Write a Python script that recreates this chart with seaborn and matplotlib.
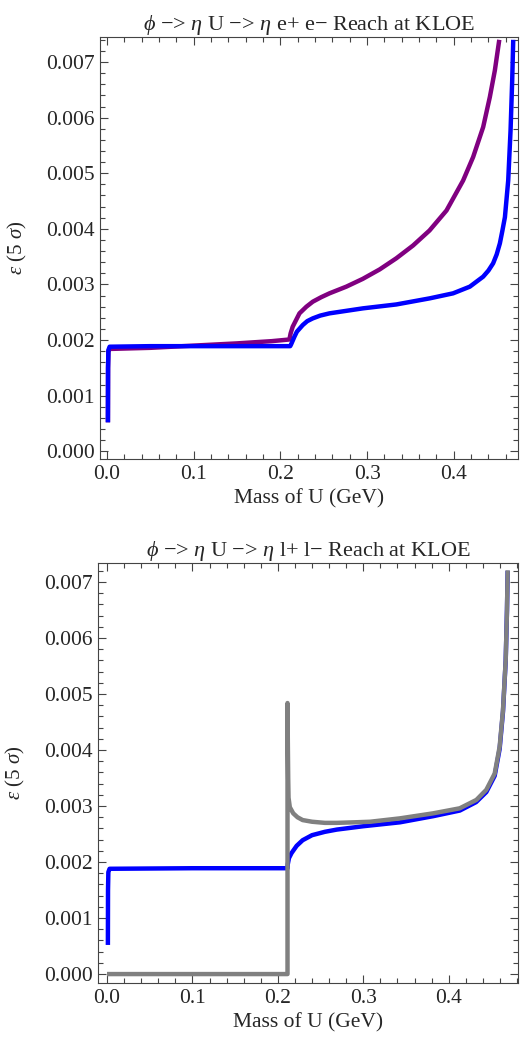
import seaborn as sns
import matplotlib.pyplot as plt
from matplotlib.ticker import MultipleLocator, FormatStrFormatter

# Top panel: phi -> eta U -> eta e+ e-
ee_blue_mass = [0.00105, 0.0012, 0.0016, 0.003, 0.05, 0.1, 0.15, 0.2, 0.2113, 0.2123,
                0.2162, 0.219, 0.2258, 0.231, 0.2374, 0.246, 0.2566, 0.2952, 0.3337, 0.3723,
                0.3992, 0.4185, 0.4339, 0.44, 0.4454, 0.4495, 0.4532, 0.456, 0.459, 0.4628,
                0.4655, 0.4674, 0.4686]
ee_blue_eps = [0.00052, 0.0015, 0.00182, 0.00188, 0.00189, 0.00189, 0.00189, 0.00189, 0.00189, 0.00192,
               0.00206, 0.00215, 0.00227, 0.00234, 0.00239, 0.00244, 0.00248, 0.00257, 0.00264, 0.00275,
               0.00284, 0.00296, 0.00314, 0.00325, 0.00338, 0.00354, 0.00374, 0.00396, 0.00421, 0.00487,
               0.00577, 0.00667, 0.0074]

ee_purple_mass = [0.00105, 0.0012, 0.0016, 0.003, 0.05, 0.1, 0.15, 0.19, 0.2104, 0.2118,
                  0.2142, 0.222, 0.23, 0.2374, 0.247, 0.2566, 0.276, 0.295, 0.3145, 0.3337,
                  0.353, 0.372, 0.3916, 0.4108, 0.4223, 0.4339, 0.4416, 0.4474, 0.4525]
ee_purple_eps = [0.00052, 0.0015, 0.0018, 0.00184, 0.00186, 0.0019, 0.00194, 0.00198, 0.00201, 0.00212,
                 0.00224, 0.00248, 0.0026, 0.00269, 0.00277, 0.00284, 0.00296, 0.0031, 0.00327, 0.00347,
                 0.0037, 0.00397, 0.00433, 0.00487, 0.00529, 0.00583, 0.00637, 0.00685, 0.0074]

# Bottom panel: phi -> eta U -> eta l+ l-
ll_blue_mass = [0.00105, 0.0012, 0.0016, 0.003, 0.1, 0.2113, 0.2116, 0.213, 0.216, 0.222,
                0.229, 0.24, 0.255, 0.269, 0.3, 0.343, 0.382, 0.413, 0.432, 0.444,
                0.4538, 0.4596, 0.4635, 0.4667, 0.4682, 0.469]
ll_blue_eps = [0.00052, 0.0015, 0.00182, 0.00188, 0.00189, 0.00189, 0.00196, 0.00207, 0.00216, 0.00229,
               0.00239, 0.00248, 0.00254, 0.00258, 0.00264, 0.00271, 0.00282, 0.00292, 0.00307, 0.00325,
               0.00354, 0.00402, 0.00468, 0.0056, 0.0065, 0.0072]

ll_gray_mass = [0.0, 0.2113, 0.2113, 0.2117, 0.2121, 0.2125, 0.214, 0.218, 0.223, 0.229,
                0.24, 0.255, 0.269, 0.29, 0.308, 0.3427, 0.3817, 0.4129, 0.4324, 0.444,
                0.4538, 0.4596, 0.4635, 0.4667, 0.4682, 0.469]
ll_gray_eps = [0.0, 0.0, 0.00484, 0.0041, 0.0035, 0.00315, 0.00298, 0.00287, 0.0028, 0.00275,
               0.00272, 0.0027, 0.0027, 0.00271, 0.00272, 0.00278, 0.00287, 0.00296, 0.00311, 0.00329,
               0.00358, 0.00406, 0.00471, 0.00561, 0.0065, 0.00721]

sns.set_style("ticks")
plt.rcParams['font.family'] = ['Liberation Serif', 'DejaVu Serif']
plt.rcParams['mathtext.fontset'] = 'custom'
plt.rcParams['mathtext.rm'] = 'Liberation Serif'
plt.rcParams['mathtext.it'] = 'Liberation Serif:italic'

fig = plt.figure(figsize=(5.2, 10.43), dpi=100)
ax1 = fig.add_axes([0.1923, 0.5599, 0.8037, 0.4046])
ax2 = fig.add_axes([0.1885, 0.0575, 0.8075, 0.4027])

line_kw = dict(sort=False, estimator=None, lw=3.2, solid_joinstyle='round', solid_capstyle='butt')

sns.lineplot(x=ee_purple_mass, y=ee_purple_eps, color='#800080', ax=ax1, **line_kw)
sns.lineplot(x=ee_blue_mass, y=ee_blue_eps, color='#0000ff', ax=ax1, **line_kw)
ax1.set_xlim(-0.0081, 0.474)
ax1.set_ylim(-0.00014, 0.00745)
ax1.set_title(r"$\phi$ −> $\eta$ U −> $\eta$ e+ e− Reach at KLOE", fontsize=16, pad=5)

sns.lineplot(x=ll_blue_mass, y=ll_blue_eps, color='#0000ff', ax=ax2, **line_kw)
sns.lineplot(x=ll_gray_mass, y=ll_gray_eps, color='#808080', ax=ax2, **line_kw)
ax2.set_xlim(-0.0105, 0.481)
ax2.set_ylim(-0.00016, 0.00734)
ax2.set_title(r"$\phi$ −> $\eta$ U −> $\eta$ l+ l− Reach at KLOE", fontsize=16, pad=5)

for ax in (ax1, ax2):
    ax.set_xlabel("Mass of U (GeV)", fontsize=15.5, labelpad=4)
    ax.set_ylabel(r"$\epsilon$ (5 $\sigma$)", fontsize=15, labelpad=12)
    ax.xaxis.set_major_locator(MultipleLocator(0.1))
    ax.xaxis.set_minor_locator(MultipleLocator(0.02))
    ax.yaxis.set_major_locator(MultipleLocator(0.001))
    ax.yaxis.set_minor_locator(MultipleLocator(0.0002))
    ax.xaxis.set_major_formatter(FormatStrFormatter('%.1f'))
    ax.yaxis.set_major_formatter(FormatStrFormatter('%.3f'))
    ax.tick_params(which='both', direction='in', top=True, right=True,
                   labelsize=15.5, color='#444444', width=0.8)
    ax.tick_params(which='major', length=6, pad=4)
    ax.tick_params(which='minor', length=3.5)
    for s in ax.spines.values():
        s.set_color('#444444')
        s.set_linewidth(0.8)

fig.savefig("out.png", dpi=100)
